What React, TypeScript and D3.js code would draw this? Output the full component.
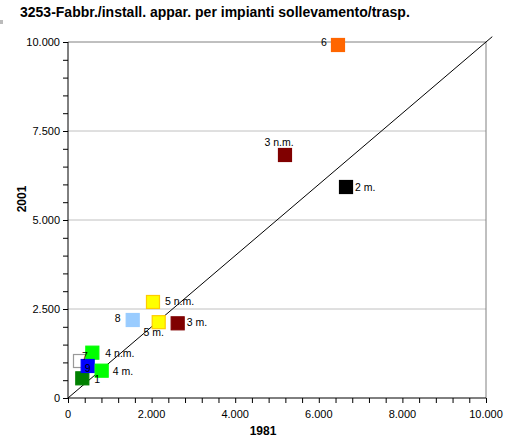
import { useEffect, useRef } from "react";
import * as d3 from "d3";

const W = 506;
const H = 437;
const PLOT = { left: 68, right: 486, top: 42, bottom: 398 };

// point data (1981 -> x, 2001 -> y)
const names = ["1", "7", "4 n.m.", "9", "4 m.", "8", "5 n.m.", "5 m.", "3 m.", "3 n.m.", "2 m.", "6"];
const x1981 = [342, 287, 582, 471, 806, 1548, 2033, 2170, 2624, 5191, 6651, 6459];
const y2001 = [553, 1039, 1273, 899, 767, 2191, 2697, 2130, 2098, 6826, 5927, 9916];
const fills = ["#008000", "#ffffff", "#00ff00", "#0000ff", "#00ff00", "#99ccff", "#ffff00", "#ffff00", "#800000", "#800000", "#000000", "#ff6600"];
const strokes = ["#008000", "#999999", "#00ff00", "#0000ff", "#00ff00", "#99ccff", "#ffcc00", "#ffcc00", "#800000", "#800000", "#000000", "#ff6600"];
// label placement: dx, dy relative to point centre, anchor
const labelDx = [15, 5, 13, 0, 11, -15, 12, -5, 9, -6, 9, -14];
const labelDy = [5, -1, 4, 6, 4, 2, 3, 14, 3, -9, 4, 1];
const labelAnchor = ["middle", "middle", "start", "middle", "start", "middle", "start", "middle", "start", "middle", "start", "middle"];

const yTicks = [0, 2500, 5000, 7500, 10000];
const xTicks = [0, 2000, 4000, 6000, 8000, 10000];

const fmt = (v: number) => d3.format(",")(v).replace(/,/g, ".");

const App = () => {
  const ref = useRef<SVGSVGElement | null>(null);

  useEffect(() => {
    const svg = d3.select(ref.current);
    svg.selectAll("*").remove();

    const x = d3.scaleLinear().domain([0, 10000]).range([PLOT.left, PLOT.right]);
    const y = d3.scaleLinear().domain([0, 10000]).range([PLOT.bottom, PLOT.top]);
    const font = "Arial, 'Liberation Sans', sans-serif";

    svg.append("rect").attr("x", 0).attr("y", 20).attr("width", 3).attr("height", 4).attr("fill", "#bbbbbb");

    svg
      .append("text")
      .attr("x", 20)
      .attr("y", 17)
      .attr("font-family", font)
      .attr("font-size", 14)
      .attr("font-weight", "bold")
      .text("3253-Fabbr./install. appar. per impianti sollevamento/trasp.");

    // gridlines
    svg
      .append("g")
      .selectAll("line")
      .data(yTicks.slice(1))
      .join("line")
      .attr("x1", PLOT.left)
      .attr("x2", PLOT.right)
      .attr("y1", (d) => y(d))
      .attr("y2", (d) => y(d))
      .attr("stroke", (d) => (d === 10000 ? "#808080" : "#c0c0c0"))
      .attr("stroke-width", 1);

    svg
      .append("line")
      .attr("x1", PLOT.right)
      .attr("x2", PLOT.right)
      .attr("y1", PLOT.top)
      .attr("y2", PLOT.bottom)
      .attr("stroke", "#808080");

    // axes
    const yAxis = svg.append("g").attr("transform", `translate(${PLOT.left},0)`);
    yAxis
      .call(d3.axisLeft(y).tickValues(d3.range(0, 10001, 500)).tickSize(5).tickFormat(() => ""))
      .call((g) => g.select(".domain").attr("stroke", "#000").attr("d", `M0,${PLOT.bottom}V${PLOT.top}`));
    yAxis
      .selectAll("text.lab")
      .data(yTicks)
      .join("text")
      .attr("class", "lab")
      .attr("x", -8)
      .attr("y", (d) => y(d) + 4)
      .attr("text-anchor", "end")
      .attr("font-family", font)
      .attr("font-size", 11)
      .attr("fill", "#000")
      .text(fmt);

    const xAxis = svg.append("g").attr("transform", `translate(0,${PLOT.bottom})`);
    xAxis
      .call(d3.axisBottom(x).tickValues(d3.range(0, 10001, 400)).tickSize(5).tickFormat(() => ""))
      .call((g) => g.select(".domain").attr("stroke", "#000").attr("d", `M${PLOT.left},0H${PLOT.right}`));
    xAxis
      .selectAll("text.lab")
      .data(xTicks)
      .join("text")
      .attr("class", "lab")
      .attr("x", (d) => x(d))
      .attr("y", 20)
      .attr("text-anchor", "middle")
      .attr("font-family", font)
      .attr("font-size", 11)
      .attr("fill", "#000")
      .text(fmt);

    svg
      .append("text")
      .attr("x", 263)
      .attr("y", 435)
      .attr("text-anchor", "middle")
      .attr("font-family", font)
      .attr("font-size", 12)
      .attr("font-weight", "bold")
      .text("1981");

    svg
      .append("text")
      .attr("transform", `translate(26,199) rotate(-90)`)
      .attr("text-anchor", "middle")
      .attr("font-family", font)
      .attr("font-size", 12)
      .attr("font-weight", "bold")
      .text("2001");

    // diagonal
    svg
      .append("line")
      .attr("x1", x(0))
      .attr("y1", y(0))
      .attr("x2", x(10150))
      .attr("y2", y(10150))
      .attr("stroke", "#000")
      .attr("stroke-width", 1);

    const idx = d3.range(names.length);
    const s = 13;
    svg
      .append("g")
      .selectAll("rect")
      .data(idx)
      .join("rect")
      .attr("x", (i) => x(x1981[i]) - s / 2)
      .attr("y", (i) => y(y2001[i]) - s / 2)
      .attr("width", s)
      .attr("height", s)
      .attr("fill", (i) => fills[i])
      .attr("stroke", (i) => strokes[i])
      .attr("stroke-width", 1.2);

    svg
      .append("g")
      .selectAll("text")
      .data(idx)
      .join("text")
      .attr("x", (i) => x(x1981[i]) + labelDx[i])
      .attr("y", (i) => y(y2001[i]) + labelDy[i])
      .attr("text-anchor", (i) => labelAnchor[i])
      .attr("font-family", font)
      .attr("font-size", 10.5)
      .attr("fill", "#000")
      .text((i) => names[i]);
  }, []);

  return (
    <svg
      ref={ref}
      width={W}
      height={H}
      style={{ position: "absolute", left: 0, top: 0, background: "#fff" }}
    />
  );
};

export default App;
